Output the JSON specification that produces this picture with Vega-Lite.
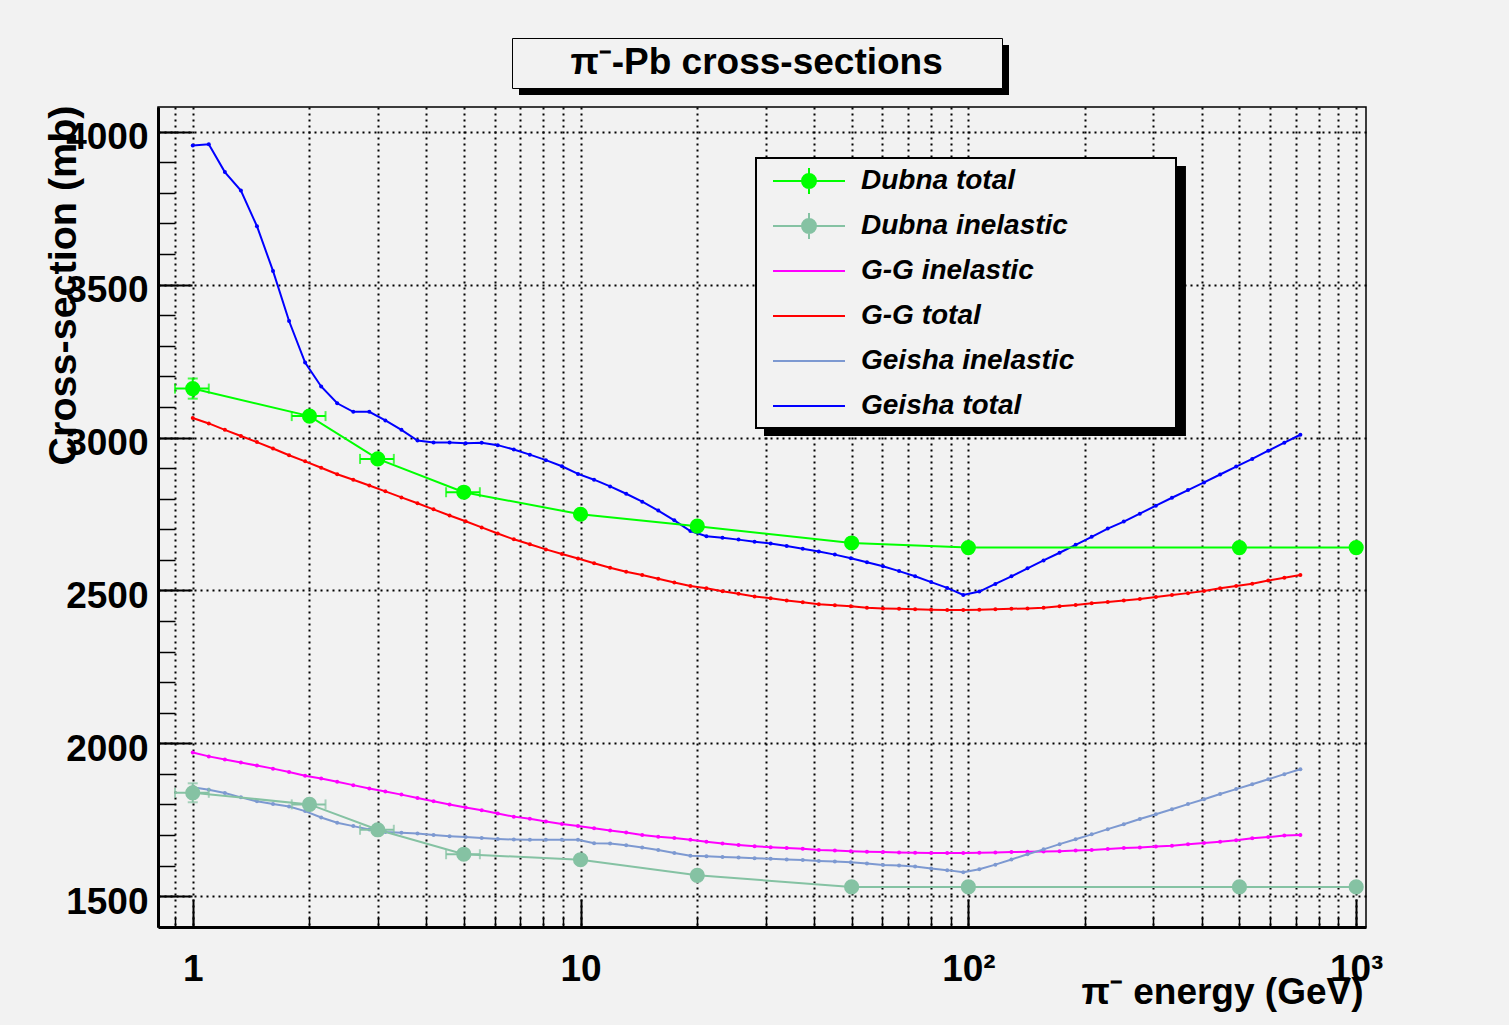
{
  "$schema": "https://vega.github.io/schema/vega-lite/v6.json",
  "width": 1208,
  "height": 820,
  "autosize": {"type": "none"},
  "padding": {"left": 158, "top": 107, "right": 143, "bottom": 98},
  "background": "#f2f2f2",
  "config": {
    "font": "Liberation Sans",
    "view": {"stroke": "black", "strokeWidth": 1.5, "fill": "#f2f2f2"},
    "axis": {"labelFont": "Liberation Sans", "titleFont": "Liberation Sans", "labelColor": "black", "titleColor": "black", "tickColor": "black", "domainColor": "black", "gridColor": "black", "gridOpacity": 1}
  },
  "datasets": {
    "theory": [
      {"E":1,"G-G total":3064,"G-G inelastic":1970,"Geisha total":3955,"Geisha inelastic":1856},
      {"E":1.1,"G-G total":3046,"G-G inelastic":1957,"Geisha total":3959,"Geisha inelastic":1848},
      {"E":1.21,"G-G total":3025,"G-G inelastic":1947,"Geisha total":3868,"Geisha inelastic":1837},
      {"E":1.331,"G-G total":3005,"G-G inelastic":1937,"Geisha total":3808,"Geisha inelastic":1823},
      {"E":1.4641,"G-G total":2985,"G-G inelastic":1927,"Geisha total":3691,"Geisha inelastic":1810},
      {"E":1.6105,"G-G total":2964,"G-G inelastic":1917,"Geisha total":3545,"Geisha inelastic":1801},
      {"E":1.7716,"G-G total":2942,"G-G inelastic":1906,"Geisha total":3381,"Geisha inelastic":1793},
      {"E":1.9487,"G-G total":2922,"G-G inelastic":1894,"Geisha total":3245,"Geisha inelastic":1778},
      {"E":2.1436,"G-G total":2901,"G-G inelastic":1885,"Geisha total":3167,"Geisha inelastic":1757},
      {"E":2.3579,"G-G total":2880,"G-G inelastic":1874,"Geisha total":3112,"Geisha inelastic":1740},
      {"E":2.5937,"G-G total":2862,"G-G inelastic":1863,"Geisha total":3084,"Geisha inelastic":1729},
      {"E":2.8531,"G-G total":2843,"G-G inelastic":1852,"Geisha total":3084,"Geisha inelastic":1718},
      {"E":3.1384,"G-G total":2824,"G-G inelastic":1842,"Geisha total":3056,"Geisha inelastic":1710},
      {"E":3.4523,"G-G total":2804,"G-G inelastic":1832,"Geisha total":3025,"Geisha inelastic":1707},
      {"E":3.7975,"G-G total":2785,"G-G inelastic":1821,"Geisha total":2990,"Geisha inelastic":1705},
      {"E":4.1772,"G-G total":2765,"G-G inelastic":1810,"Geisha total":2984,"Geisha inelastic":1700},
      {"E":4.595,"G-G total":2745,"G-G inelastic":1800,"Geisha total":2984,"Geisha inelastic":1696},
      {"E":5.0545,"G-G total":2726,"G-G inelastic":1790,"Geisha total":2981,"Geisha inelastic":1693},
      {"E":5.5599,"G-G total":2706,"G-G inelastic":1781,"Geisha total":2983,"Geisha inelastic":1690},
      {"E":6.1159,"G-G total":2686,"G-G inelastic":1770,"Geisha total":2975,"Geisha inelastic":1687},
      {"E":6.7275,"G-G total":2667,"G-G inelastic":1760,"Geisha total":2961,"Geisha inelastic":1685},
      {"E":7.4002,"G-G total":2651,"G-G inelastic":1753,"Geisha total":2944,"Geisha inelastic":1684},
      {"E":8.1403,"G-G total":2634,"G-G inelastic":1744,"Geisha total":2926,"Geisha inelastic":1684},
      {"E":8.9543,"G-G total":2619,"G-G inelastic":1736,"Geisha total":2906,"Geisha inelastic":1684},
      {"E":9.8497,"G-G total":2604,"G-G inelastic":1729,"Geisha total":2881,"Geisha inelastic":1684},
      {"E":10.835,"G-G total":2589,"G-G inelastic":1722,"Geisha total":2862,"Geisha inelastic":1673},
      {"E":11.918,"G-G total":2574,"G-G inelastic":1715,"Geisha total":2840,"Geisha inelastic":1672},
      {"E":13.11,"G-G total":2561,"G-G inelastic":1708,"Geisha total":2816,"Geisha inelastic":1666},
      {"E":14.421,"G-G total":2550,"G-G inelastic":1700,"Geisha total":2790,"Geisha inelastic":1659},
      {"E":15.863,"G-G total":2538,"G-G inelastic":1694,"Geisha total":2761,"Geisha inelastic":1651},
      {"E":17.449,"G-G total":2526,"G-G inelastic":1690,"Geisha total":2729,"Geisha inelastic":1641},
      {"E":19.194,"G-G total":2514,"G-G inelastic":1684,"Geisha total":2694,"Geisha inelastic":1632},
      {"E":21.114,"G-G total":2507,"G-G inelastic":1678,"Geisha total":2677,"Geisha inelastic":1630},
      {"E":23.225,"G-G total":2497,"G-G inelastic":1672,"Geisha total":2672,"Geisha inelastic":1628},
      {"E":25.548,"G-G total":2489,"G-G inelastic":1667,"Geisha total":2666,"Geisha inelastic":1626},
      {"E":28.102,"G-G total":2480,"G-G inelastic":1663,"Geisha total":2659,"Geisha inelastic":1624},
      {"E":30.913,"G-G total":2474,"G-G inelastic":1660,"Geisha total":2653,"Geisha inelastic":1622},
      {"E":34.004,"G-G total":2467,"G-G inelastic":1657,"Geisha total":2645,"Geisha inelastic":1620},
      {"E":37.404,"G-G total":2461,"G-G inelastic":1655,"Geisha total":2636,"Geisha inelastic":1618},
      {"E":41.145,"G-G total":2455,"G-G inelastic":1651,"Geisha total":2627,"Geisha inelastic":1615},
      {"E":45.259,"G-G total":2451,"G-G inelastic":1649,"Geisha total":2617,"Geisha inelastic":1613},
      {"E":49.785,"G-G total":2448,"G-G inelastic":1647,"Geisha total":2605,"Geisha inelastic":1611},
      {"E":54.764,"G-G total":2443,"G-G inelastic":1645,"Geisha total":2592,"Geisha inelastic":1607},
      {"E":60.24,"G-G total":2441,"G-G inelastic":1644,"Geisha total":2579,"Geisha inelastic":1602},
      {"E":66.264,"G-G total":2440,"G-G inelastic":1643,"Geisha total":2563,"Geisha inelastic":1600},
      {"E":72.89,"G-G total":2438,"G-G inelastic":1642,"Geisha total":2546,"Geisha inelastic":1597},
      {"E":80.18,"G-G total":2437,"G-G inelastic":1641,"Geisha total":2527,"Geisha inelastic":1590},
      {"E":88.197,"G-G total":2436,"G-G inelastic":1641,"Geisha total":2508,"Geisha inelastic":1585},
      {"E":97.017,"G-G total":2436,"G-G inelastic":1641,"Geisha total":2485,"Geisha inelastic":1578},
      {"E":106.72,"G-G total":2437,"G-G inelastic":1642,"Geisha total":2496,"Geisha inelastic":1588},
      {"E":117.39,"G-G total":2438,"G-G inelastic":1643,"Geisha total":2521,"Geisha inelastic":1603},
      {"E":129.13,"G-G total":2440,"G-G inelastic":1644,"Geisha total":2546,"Geisha inelastic":1620},
      {"E":142.04,"G-G total":2441,"G-G inelastic":1645,"Geisha total":2572,"Geisha inelastic":1637},
      {"E":156.25,"G-G total":2443,"G-G inelastic":1646,"Geisha total":2598,"Geisha inelastic":1653},
      {"E":171.87,"G-G total":2448,"G-G inelastic":1647,"Geisha total":2623,"Geisha inelastic":1670},
      {"E":189.06,"G-G total":2452,"G-G inelastic":1649,"Geisha total":2649,"Geisha inelastic":1686},
      {"E":207.97,"G-G total":2458,"G-G inelastic":1651,"Geisha total":2675,"Geisha inelastic":1702},
      {"E":228.76,"G-G total":2462,"G-G inelastic":1654,"Geisha total":2702,"Geisha inelastic":1719},
      {"E":251.64,"G-G total":2467,"G-G inelastic":1657,"Geisha total":2725,"Geisha inelastic":1735},
      {"E":276.8,"G-G total":2472,"G-G inelastic":1659,"Geisha total":2751,"Geisha inelastic":1752},
      {"E":304.48,"G-G total":2478,"G-G inelastic":1662,"Geisha total":2777,"Geisha inelastic":1768},
      {"E":334.93,"G-G total":2485,"G-G inelastic":1665,"Geisha total":2803,"Geisha inelastic":1784},
      {"E":368.42,"G-G total":2491,"G-G inelastic":1670,"Geisha total":2828,"Geisha inelastic":1801},
      {"E":405.27,"G-G total":2498,"G-G inelastic":1674,"Geisha total":2853,"Geisha inelastic":1817},
      {"E":445.79,"G-G total":2507,"G-G inelastic":1678,"Geisha total":2879,"Geisha inelastic":1834},
      {"E":490.37,"G-G total":2514,"G-G inelastic":1683,"Geisha total":2905,"Geisha inelastic":1850},
      {"E":539.41,"G-G total":2522,"G-G inelastic":1689,"Geisha total":2930,"Geisha inelastic":1866},
      {"E":593.35,"G-G total":2532,"G-G inelastic":1693,"Geisha total":2957,"Geisha inelastic":1882},
      {"E":652.68,"G-G total":2541,"G-G inelastic":1698,"Geisha total":2983,"Geisha inelastic":1899},
      {"E":717.95,"G-G total":2550,"G-G inelastic":1700,"Geisha total":3009,"Geisha inelastic":1915}
    ],
    "dubna": [
      {"series":"Dubna total","E":1,"v":3160},
      {"series":"Dubna total","E":2,"v":3070},
      {"series":"Dubna total","E":3,"v":2930},
      {"series":"Dubna total","E":5,"v":2821},
      {"series":"Dubna total","E":10,"v":2749},
      {"series":"Dubna total","E":20,"v":2710},
      {"series":"Dubna total","E":50,"v":2655},
      {"series":"Dubna total","E":100,"v":2640},
      {"series":"Dubna total","E":500,"v":2640},
      {"series":"Dubna total","E":1000,"v":2640},
      {"series":"Dubna inelastic","E":1,"v":1838},
      {"series":"Dubna inelastic","E":2,"v":1800},
      {"series":"Dubna inelastic","E":3,"v":1717},
      {"series":"Dubna inelastic","E":5,"v":1637},
      {"series":"Dubna inelastic","E":10,"v":1619},
      {"series":"Dubna inelastic","E":20,"v":1568},
      {"series":"Dubna inelastic","E":50,"v":1530},
      {"series":"Dubna inelastic","E":100,"v":1530},
      {"series":"Dubna inelastic","E":500,"v":1530},
      {"series":"Dubna inelastic","E":1000,"v":1530}
    ],
    "xerr": [
      {"series":"Dubna total","v":3160,"lo":0.9,"hi":1.1},
      {"series":"Dubna total","v":3070,"lo":1.8,"hi":2.2},
      {"series":"Dubna total","v":2930,"lo":2.7,"hi":3.3},
      {"series":"Dubna total","v":2821,"lo":4.5,"hi":5.5},
      {"series":"Dubna inelastic","v":1838,"lo":0.9,"hi":1.1},
      {"series":"Dubna inelastic","v":1800,"lo":1.8,"hi":2.2},
      {"series":"Dubna inelastic","v":1717,"lo":2.7,"hi":3.3},
      {"series":"Dubna inelastic","v":1637,"lo":4.5,"hi":5.5}
    ],
    "yerr": [
      {"series":"Dubna total","E":1,"lo":3127,"hi":3193},
      {"series":"Dubna inelastic","E":1,"lo":1807,"hi":1869}
    ]
  },
  "layer": [
    {
      "data": {"name": "theory"},
      "transform": [{"fold": ["G-G inelastic", "G-G total", "Geisha inelastic", "Geisha total"], "as": ["series", "v"]}],
      "mark": {"type": "line", "strokeWidth": 2, "point": {"filled": true, "size": 16, "opacity": 1}},
      "encoding": {
        "x": {"field": "E", "type": "quantitative", "scale": {"type": "log", "domain": [0.8136, 1060], "nice": false},
          "axis": {"orient": "bottom", "values": [1, 10, 100, 1000], "labelExpr": "datum.value == 1 ? '1' : datum.value == 10 ? '10' : datum.value == 100 ? '10²' : '10³'", "ticks": false, "grid": false, "domain": true, "domainWidth": 3, "labelFontSize": 37, "labelFontWeight": "bold", "labelPadding": 53, "labelBaseline": "alphabetic", "labelFlush": false, "labelOverlap": false, "labelBound": false, "title": "π⁻ energy (GeV)", "titleFontSize": 37, "titleFontWeight": "bold", "titleX": 1205, "titleY": 76, "titleAlign": "right", "titleAnchor": "end", "titleBaseline": "alphabetic"}},
        "y": {"field": "v", "type": "quantitative", "scale": {"domain": [1399, 4081], "nice": false, "zero": false},
          "axis": {"orient": "left", "values": [1500, 2000, 2500, 3000, 3500, 4000], "format": "d", "ticks": false, "grid": true, "gridDash": [2, 4], "gridWidth": 2, "domain": true, "domainWidth": 3, "labelFontSize": 37, "labelFontWeight": "bold", "labelPadding": 10, "labelBaseline": "alphabetic", "labelOffset": 17, "labelFlush": false, "labelOverlap": false, "labelBound": false, "title": "Cross-section (mb)", "titleFontSize": 39.5, "titleFontWeight": "bold", "titleX": -83, "titleY": -2, "titleAlign": "right", "titleAngle": 270, "titleAnchor": "end", "titleBaseline": "alphabetic"}},
        "color": {"field": "series", "type": "nominal",
          "scale": {"domain": ["Dubna total", "Dubna inelastic", "G-G inelastic", "G-G total", "Geisha inelastic", "Geisha total"], "range": ["#00ff00", "#85c2a3", "#ff00ff", "#ff0000", "#7d99d1", "#0000ff"]},
          "legend": {"orient": "none", "legendX": 598, "legendY": 51, "zindex": 4, "title": null, "fillColor": "#f2f2f2", "strokeColor": "black", "padding": 8, "gridAlign": "all", "symbolSize": 784, "symbolOffset": 30, "symbolStrokeWidth": 2, "labelOffset": 37, "labelFont": "Liberation Sans", "labelFontSize": 28, "labelFontWeight": "bold", "labelFontStyle": "italic", "labelColor": "black", "labelLimit": 700, "rowPadding": 9, "labelExpr": "datum.label + '\u00a0\u00a0\u00a0\u00a0\u00a0\u00a0\u00a0\u00a0\u00a0\u00a0\u00a0\u00a0\u200b'",
            "encode": {
              "legend": {"update": {"strokeWidth": {"value": 2}}},
              "symbols": {"update": {"shape": {"signal": "indexof(['Dubna total','Dubna inelastic'], datum.value) >= 0 ? 'M-2.571,0H2.571M0,-0.93V0.93M0.5,0A0.5,0.5,0,1,1,-0.5,0A0.5,0.5,0,1,1,0.5,0' : 'M-2.571,0H2.571'"}, "fill": {"scale": "color", "field": "value"}, "stroke": {"scale": "color", "field": "value"}, "strokeWidth": {"value": 2}, "opacity": {"value": 1}}}
            }}}
      }
    },
    {
      "data": {"name": "dubna"},
      "mark": {"type": "line", "strokeWidth": 2},
      "encoding": {
        "x": {"field": "E", "type": "quantitative", "axis": {"orient": "bottom", "values": [1, 10, 100, 1000], "labels": false, "grid": false, "domain": false, "tickSize": -28, "tickWidth": 2, "title": null}},
        "y": {"field": "v", "type": "quantitative", "axis": {"orient": "left", "values": [1500, 2000, 2500, 3000, 3500, 4000], "labels": false, "grid": false, "domain": false, "tickSize": -34, "tickWidth": 2, "title": null}},
        "color": {"field": "series", "type": "nominal", "legend": null},
        "strokeWidth": {"field": "series", "type": "ordinal",
          "scale": {"domain": ["Geisha total", "Dubna total", "Dubna inelastic", "G-G inelastic", "G-G total", "Geisha inelastic"], "range": [2, 2]},
          "legend": {"orient": "none", "legendX": 606, "legendY": 59, "zindex": 3, "values": ["Geisha total"], "title": null, "padding": 0, "symbolSize": 71824, "symbolOffset": 0, "symbolStrokeWidth": 0, "symbolType": "M-1,-1H2.134V1H-1Z", "labelOffset": 0, "labelFontSize": 1, "labelExpr": "''",
            "encode": {"symbols": {"update": {"shape": {"value": "M-1,-1H2.134V1H-1Z"}, "fill": {"value": "black"}, "stroke": {"value": "black"}, "strokeWidth": {"value": 0}, "opacity": {"value": 1}}}}}}
      }
    },
    {
      "data": {"name": "xerr"},
      "mark": {"type": "errorbar", "ticks": {"size": 10, "thickness": 2}, "thickness": 2},
      "encoding": {
        "x": {"field": "lo", "type": "quantitative", "axis": null},
        "x2": {"field": "hi"},
        "y": {"field": "v", "type": "quantitative", "axis": null},
        "color": {"field": "series", "type": "nominal", "legend": null}
      }
    },
    {
      "data": {"name": "yerr"},
      "mark": {"type": "errorbar", "ticks": {"size": 10, "thickness": 2}, "thickness": 2},
      "encoding": {
        "y": {"field": "lo", "type": "quantitative", "axis": null},
        "y2": {"field": "hi"},
        "x": {"field": "E", "type": "quantitative", "axis": null},
        "color": {"field": "series", "type": "nominal", "legend": null}
      }
    },
    {
      "data": {"name": "dubna"},
      "mark": {"type": "point", "filled": true, "size": 230, "opacity": 1},
      "encoding": {
        "x": {"field": "E", "type": "quantitative", "axis": {"orient": "bottom", "values": [0.9, 1, 2, 3, 4, 5, 6, 7, 8, 9, 10, 20, 30, 40, 50, 60, 70, 80, 90, 100, 200, 300, 400, 500, 600, 700, 800, 900, 1000], "labels": false, "domain": false, "grid": true, "gridDash": [2, 4], "gridWidth": 2, "tickSize": -11, "tickWidth": 1.5, "title": null}},
        "y": {"field": "v", "type": "quantitative", "axis": {"orient": "left", "values": [1500, 1600, 1700, 1800, 1900, 2000, 2100, 2200, 2300, 2400, 2500, 2600, 2700, 2800, 2900, 3000, 3100, 3200, 3300, 3400, 3500, 3600, 3700, 3800, 3900, 4000], "labels": false, "grid": false, "domain": false, "tickSize": -17, "tickWidth": 1.5, "title": null}},
        "color": {"field": "series", "type": "nominal", "legend": null},
        "opacity": {"field": "series", "type": "ordinal",
          "scale": {"domain": ["Geisha total", "Geisha inelastic", "G-G total", "G-G inelastic", "Dubna inelastic", "Dubna total"], "range": [1, 1]},
          "legend": {"orient": "none", "legendX": 361, "legendY": -62, "zindex": 3, "values": ["Geisha total"], "title": null, "padding": 0, "symbolSize": 2500, "symbolOffset": 0, "symbolStrokeWidth": 0, "symbolType": "M-1,-1H18.6V1H-1Z", "symbolFillColor": "black", "labelOffset": 0, "labelFontSize": 1, "labelExpr": "''",
            "encode": {"symbols": {"update": {"shape": {"value": "M-1,-1H18.6V1H-1Z"}, "fill": {"value": "black"}, "stroke": {"value": "black"}, "strokeWidth": {"value": 0}, "opacity": {"value": 1}}}}}},
        "size": {"field": "series", "type": "ordinal",
          "scale": {"domain": ["G-G total", "Geisha total", "Dubna total", "Geisha inelastic", "Dubna inelastic", "G-G inelastic"], "range": [230, 230]},
          "legend": {"orient": "none", "legendX": 354, "legendY": -69, "zindex": 4, "values": [], "title": "\u200b\u00a0\u00a0\u00a0\u00a0\u00a0π⁻-Pb cross-sections\u00a0\u00a0\u00a0\u00a0\u00a0\u200b", "titleFont": "Liberation Sans", "titleFontSize": 37, "titleFontWeight": "bold", "titleColor": "black", "titleLimit": 1000, "titlePadding": 0, "padding": 7, "fillColor": "#f2f2f2", "strokeColor": "black", "encode": {"legend": {"update": {"strokeWidth": {"value": 2}}}}}}
      }
    }
  ],
  "resolve": {"axis": {"x": "independent", "y": "independent"}}
}
